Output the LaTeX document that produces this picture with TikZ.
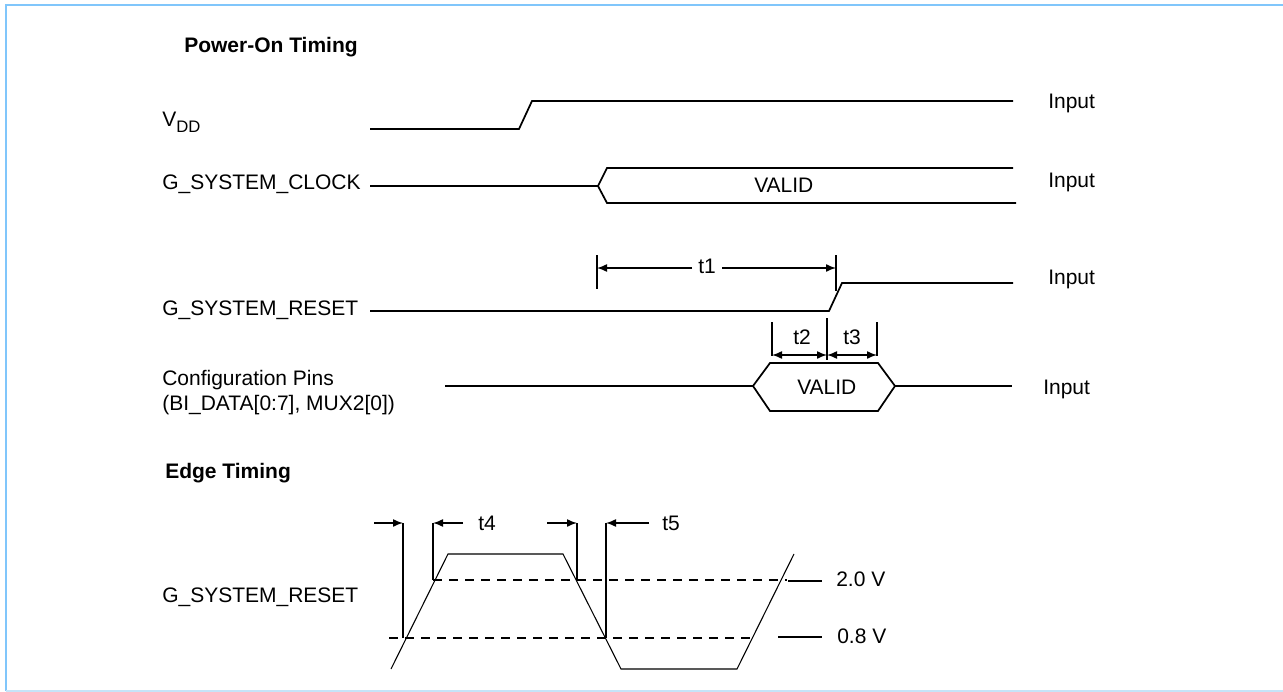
\documentclass[tikz,border=0pt]{standalone}
\usepackage{fontspec}
\setmainfont{Liberation Sans}
\usetikzlibrary{arrows.meta}
\definecolor{frameblue}{HTML}{80C6FB}
\definecolor{framelight}{HTML}{C6E4F8}
\tikzset{
  lbl/.style={anchor=base west,inner sep=0pt,font=\fontsize{15.75}{18}\selectfont},
  blbl/.style={anchor=base west,inner sep=0pt,font=\fontsize{15.75}{18}\selectfont\bfseries},
  wave/.style={line width=1.3pt,line join=miter},
  thinwave/.style={line width=0.8pt},
  tick/.style={line width=1.2pt},
  dim/.style={line width=1.1pt,-{Latex[length=7.5pt,width=6pt]}},
  ddim/.style={line width=1.1pt,{Latex[length=7.5pt,width=6pt]}-{Latex[length=7.5pt,width=6pt]}},
  thr/.style={line width=1.1pt,dash pattern=on 7pt off 5pt},
}
\begin{document}
\begin{tikzpicture}[x=0.75pt,y=-0.75pt]
\useasboundingbox (0,0) rectangle (1283,692);
% frame
\draw[frameblue,line width=1.6pt] (6,691) -- (6,5) -- (1283,5);
\draw[framelight,line width=1pt] (6,691) -- (1283,691);

% titles
\node[blbl] (title1) at (184,53) {Power-On Timing};
\node[blbl] (title2) at (165,478) {Edge Timing};

% signal labels
\node[lbl] (vdd) at (162,127) {V\raisebox{-4.5pt}{\fontsize{12.5}{13}\selectfont DD}};
\node[lbl] (clk) at (162,190) {G\_SYSTEM\_CLOCK};
\node[lbl] (rst) at (162,315) {G\_SYSTEM\_RESET};
\node[lbl] (cfg1) at (162,385) {Configuration Pins};
\node[lbl] (cfg2) at (162,410) {(BI\_DATA[0:7], MUX2[0])};
\node[lbl] (rst2) at (162,602) {G\_SYSTEM\_RESET};

\node[lbl] (in1) at (1048,109) {Input};
\node[lbl] (in2) at (1048,187) {Input};
\node[lbl] (in3) at (1048,284) {Input};
\node[lbl] (in4) at (1043,394) {Input};

% VDD
\draw[wave] (370,129) -- (519,129) -- (532,101) -- (1013,101);
% clock
\draw[wave] (370,186) -- (598,186);
\draw[wave] (1013,168) -- (607,168) -- (598,186) -- (607,203) -- (1016,203);
\node[lbl] (v1) at (754,192) {VALID};
% reset
\draw[wave] (370,311) -- (829,311) -- (842,283) -- (1013,283);
% config
\draw[wave] (445,386) -- (753,386) -- (770,363) -- (878,363) -- (895,386) -- (878,411) -- (770,411) -- (753,386);
\draw[wave] (895,386) -- (1012,386);
\node[lbl] (v2) at (797,394) {VALID};

% t1
\coordinate (t1a) at (597,255); \coordinate (t1b) at (597,289);
\coordinate (t1c) at (836,255); \coordinate (t1d) at (836,291);
\draw[tick] (t1a) -- (t1b);
\draw[tick] (t1c) -- (t1d);
\node[lbl] (t1) at (698,273) {t1};
\coordinate (t1l) at (692,268); \coordinate (t1r) at (722,268);
\draw[dim] (t1l) -- (597,268);
\draw[dim] (t1r) -- (836,268);

% t2 t3
\draw[tick] (772,322) -- (772,356);
\draw[tick] (827,318) -- (827,360);
\draw[tick] (877,322) -- (877,356);
\coordinate (t2l) at (772,355); \coordinate (t2r) at (827,355); \coordinate (t3r) at (877,355);
\draw[ddim] (t2l) -- (t2r);
\draw[ddim] (t2r) -- (t3r);
\node[lbl] (t2) at (793,344) {t2};
\node[lbl] (t3) at (843,344) {t3};

% edge timing
\draw[thr] (433,580) -- (787,580);
\draw[thr] (389,638) -- (753,638);
\draw[line width=1.1pt] (788,581) -- (822,581);
\draw[line width=1.1pt] (778,637) -- (822,637);
\node[lbl] (v20) at (836,586) {2.0 V};
\node[lbl] (v08) at (837,643) {0.8 V};

\draw[thinwave] (391,669) -- (448,554) -- (563,554) -- (621,669) -- (737,669) -- (794,554);

\coordinate (e1) at (403,523); \coordinate (e2) at (433,523);
\coordinate (e3) at (577,523); \coordinate (e4) at (606,523);
\draw[tick] (e1) -- (403,638);
\draw[tick] (e2) -- (433,580);
\draw[tick] (e3) -- (577,580);
\draw[tick] (e4) -- (606,638);
\draw[dim] (374,523) -- (e1);
\draw[dim] (463,523) -- (e2);
\draw[dim] (547,523) -- (e3);
\draw[dim] (649,523) -- (e4);
\node[lbl] (t4) at (478,530) {t4};
\node[lbl] (t5) at (662,530) {t5};
\end{tikzpicture}
\end{document}
